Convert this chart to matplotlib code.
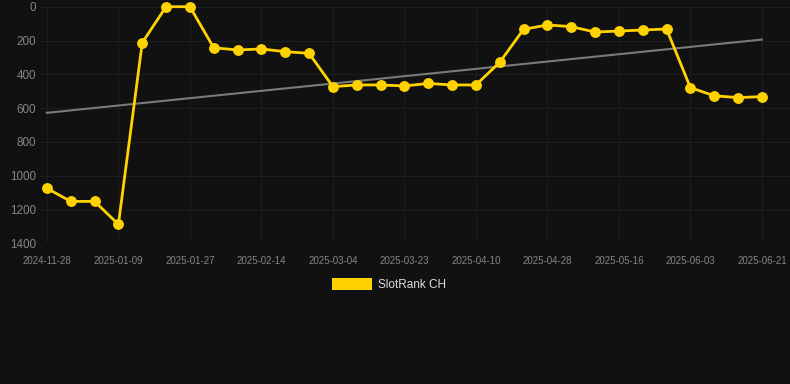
import matplotlib

matplotlib.use("Agg")

import matplotlib.pyplot as plt
import numpy as np
from matplotlib.patches import Rectangle

plt.rcParams["font.family"] = ["Liberation Sans", "DejaVu Sans"]

# weekly-ish rank readings, one per slot on the category axis
ranks = [1075, 1152, 1152, 1288, 213, 0, 0, 243, 256, 250, 266, 276,
         473, 463, 463, 469, 454, 463, 463, 329, 134, 108, 118, 150,
         144, 138, 132, 479, 527, 538, 532]
tick_labels = ["2024-11-28", "2025-01-09", "2025-01-27", "2025-02-14",
               "2025-03-04", "2025-03-23", "2025-04-10", "2025-04-28",
               "2025-05-16", "2025-06-03", "2025-06-21"]
y_ticks = [0, 200, 400, 600, 800, 1000, 1200, 1400]
series_name = "SlotRank CH"

BG = "#111111"
YELLOW = "#FFD200"

W, H = 790, 384
fig = plt.figure(figsize=(W / 100, H / 100), dpi=100, facecolor=BG)
ax = fig.add_axes([40 / W, (H - 243.3) / H, 750 / W, 236.6 / H], facecolor=BG)

x = np.arange(len(ranks))
slope, icpt = np.polyfit(x, ranks, 1)
ax.plot(x, slope * x + icpt, color="#7a7a7a", lw=1.5, zorder=2)
ax.plot(x, ranks, color=YELLOW, lw=2, marker="o", markersize=6.8,
        clip_on=False, zorder=3)

ax.set_xlim(-0.29, 31.18)
ax.set_ylim(1400, 0)
ax.set_yticks(y_ticks)
ax.set_yticklabels([str(v) for v in y_ticks])
ax.set_xticks(x[::3])
ax.set_xticklabels(tick_labels)

ax.grid(True, color="#1d1d1d", lw=0.8)
for s in ax.spines.values():
    s.set_visible(False)
ax.tick_params(axis="y", length=0, pad=3, labelsize=8.4, labelcolor="#858585")
ax.tick_params(axis="x", length=0, pad=9, labelsize=7, labelcolor="#858585")

# legend
fig.patches.append(Rectangle((332 / W, (H - 290) / H), 40 / W, 12 / H,
                             transform=fig.transFigure, facecolor=YELLOW,
                             edgecolor="none"))
fig.text(378 / W, (H - 285) / H, series_name, color="#dddddd", fontsize=8.5,
         va="center", ha="left")

fig.savefig("out.png", dpi=100, facecolor=BG)
